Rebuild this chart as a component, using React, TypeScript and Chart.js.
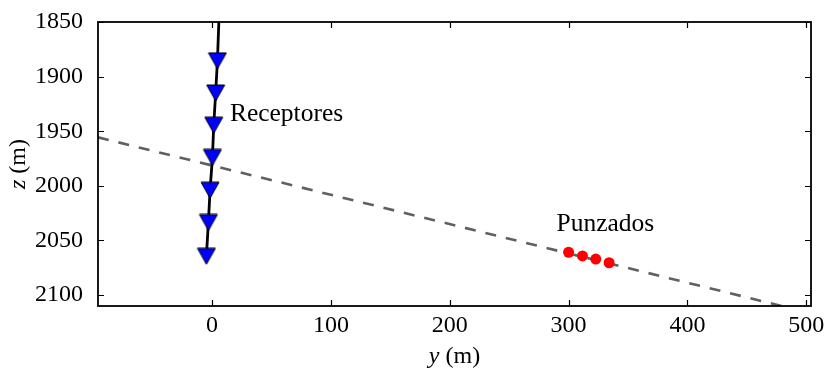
import { useEffect, useRef } from "react";
import { Chart, registerables } from "chart.js";

Chart.register(...registerables);

// Well trajectory (horizontal offset y, depth z), top of view down to the deepest receptor
const wellY = [5.7, 4.5, 3.0, 1.4, 0.3, -1.7, -3.1, -4.8];
const wellZ = [1850, 1885.5, 1915, 1944.5, 1974, 2004, 2033.5, 2064.5];

// Receptor stations along the well
const receptorY = [4.5, 3.0, 1.4, 0.3, -1.7, -3.1, -4.8];
const receptorZ = [1885.5, 1915, 1944.5, 1974, 2004, 2033.5, 2064.5];

// Perforation shots
const perforationY = [300, 311.7, 322.9, 334.1];
const perforationZ = [2060.8, 2064.2, 2067.0, 2070.4];

// Dipping layer boundary
const planeY = [-96, 504];
const planeZ = [1955.6, 2116.6];

// Axis ranges and ticks
const yRange = [-96, 504];
const zRange = [1850, 2110];
const yTicks = [0, 100, 200, 300, 400, 500];
const zTicks = [1850, 1900, 1950, 2000, 2050, 2100];

// In-plot labels (text, y, z of the baseline start)
const annotationText = ["Receptores", "Punzados"];
const annotationY = [15.0, 289.8];
const annotationZ = [1940.6, 2041.1];

const SERIF = "'Liberation Serif', 'Times New Roman', serif";

function makeTriangle(): HTMLCanvasElement {
  const c = document.createElement("canvas");
  c.width = 20;
  c.height = 18;
  const g = c.getContext("2d")!;
  g.beginPath();
  g.moveTo(1, 1);
  g.lineTo(19, 1);
  g.lineTo(10, 17);
  g.closePath();
  g.fillStyle = "#0000ff";
  g.fill();
  g.lineWidth = 1;
  g.strokeStyle = "#000";
  g.stroke();
  return c;
}

const framePlugin = {
  id: "frameAndLabels",
  afterDatasetsDraw(chart: any) {
    const { ctx, chartArea: a, scales } = chart;
    const xs = scales.x;
    const ys = scales.y;
    ctx.save();

    // inward tick marks on all four sides
    ctx.strokeStyle = "#000";
    ctx.lineWidth = 1.2;
    ctx.beginPath();
    const tl = 6;
    for (const v of yTicks) {
      const px = Math.round(xs.getPixelForValue(v)) + 0.5;
      ctx.moveTo(px, a.bottom);
      ctx.lineTo(px, a.bottom - tl);
      ctx.moveTo(px, a.top);
      ctx.lineTo(px, a.top + tl);
    }
    for (const v of zTicks) {
      const py = Math.round(ys.getPixelForValue(v)) + 0.5;
      ctx.moveTo(a.left, py);
      ctx.lineTo(a.left + tl, py);
      ctx.moveTo(a.right, py);
      ctx.lineTo(a.right - tl, py);
    }
    ctx.stroke();

    // frame
    ctx.lineWidth = 1.8;
    ctx.strokeRect(a.left, a.top, a.right - a.left, a.bottom - a.top);

    // in-plot labels
    ctx.fillStyle = "#000";
    ctx.font = `25.5px ${SERIF}`;
    ctx.textAlign = "left";
    ctx.textBaseline = "alphabetic";
    annotationText.forEach((t, i) => {
      ctx.fillText(t, xs.getPixelForValue(annotationY[i]), ys.getPixelForValue(annotationZ[i]));
    });

    // axis titles with italic variable names
    const italic = `italic 24px ${SERIF}`;
    const normal = `24px ${SERIF}`;
    const drawTitle = (v: string, cx: number, baseY: number) => {
      ctx.font = italic;
      const w1 = ctx.measureText(v).width;
      ctx.font = normal;
      const w2 = ctx.measureText(" (m)").width;
      const x0 = cx - (w1 + w2) / 2;
      ctx.font = italic;
      ctx.fillText(v, x0, baseY);
      ctx.font = normal;
      ctx.fillText(" (m)", x0 + w1, baseY);
    };
    drawTitle("y", (a.left + a.right) / 2, 363);
    ctx.save();
    ctx.translate(25, (a.top + a.bottom) / 2);
    ctx.rotate(-Math.PI / 2);
    drawTitle("z", 0, 0);
    ctx.restore();

    ctx.restore();
  },
};

export default function App() {
  const ref = useRef<HTMLCanvasElement>(null);

  useEffect(() => {
    if (!ref.current) return;
    const tri = makeTriangle();
    const pts = (xs: number[], zs: number[]) => xs.map((v, i) => ({ x: v, y: zs[i] }));
    const plain = (v: any) => String(v);
    const chart = new Chart(ref.current, {
      type: "scatter",
      data: {
        datasets: [
          {
            data: pts(receptorY, receptorZ),
            pointStyle: tri as any,
            pointRadius: 10,
            showLine: false,
            order: 0,
          },
          {
            data: pts(perforationY, perforationZ),
            pointStyle: "circle",
            pointRadius: 5.5,
            backgroundColor: "#ff0000",
            borderColor: "#ff0000",
            borderWidth: 0,
            showLine: false,
            order: 0,
          },
          {
            data: pts(wellY, wellZ),
            showLine: true,
            pointRadius: 0,
            borderColor: "#000",
            borderWidth: 2.8,
            order: 1,
          },
          {
            data: pts(planeY, planeZ),
            showLine: true,
            pointRadius: 0,
            borderColor: "#606060",
            borderWidth: 2.6,
            borderDash: [11, 10],
            order: 2,
          },
        ],
      },
      options: {
        responsive: false,
        animation: false,
        events: [],
        layout: { padding: { top: 22, right: 14, left: 0, bottom: 0 } },
        plugins: {
          legend: { display: false },
          tooltip: { enabled: false },
          title: { display: false },
        },
        scales: {
          x: {
            type: "linear",
            min: yRange[0],
            max: yRange[1],
            grid: { display: false },
            border: { display: false },
            afterBuildTicks: (s: any) => {
              s.ticks = yTicks.map((v) => ({ value: v }));
            },
            afterFit: (s: any) => {
              s.height = 66;
            },
            ticks: {
              color: "#000",
              font: { family: SERIF, size: 24 },
              padding: -3,
              maxRotation: 0,
              autoSkip: false,
              callback: plain,
            },
          },
          y: {
            type: "linear",
            reverse: true,
            min: zRange[0],
            max: zRange[1],
            grid: { display: false },
            border: { display: false },
            afterBuildTicks: (s: any) => {
              s.ticks = zTicks.map((v) => ({ value: v }));
            },
            afterFit: (s: any) => {
              s.width = 98;
            },
            ticks: {
              color: "#000",
              font: { family: SERIF, size: 24 },
              padding: 7,
              autoSkip: false,
              callback: plain,
            },
          },
        },
      },
      plugins: [framePlugin],
    });
    return () => chart.destroy();
  }, []);

  return (
    <div style={{ position: "fixed", left: 0, top: 0, width: 825, height: 372, background: "#fff" }}>
      <canvas ref={ref} width={825} height={372} style={{ display: "block" }} />
    </div>
  );
}
